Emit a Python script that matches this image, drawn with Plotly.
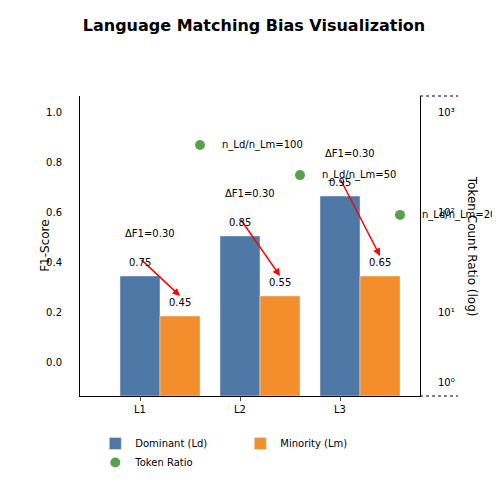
import plotly.graph_objects as go
import math

langs = ["L1", "L2", "L3"]
dominant_h = [0.344, 0.504, 0.664]
minority_h = [0.184, 0.264, 0.344]
dominant_lbl = ["0.75", "0.85", "0.95"]
minority_lbl = ["0.45", "0.55", "0.65"]
delta_lbl = ["ΔF1=0.30", "ΔF1=0.30", "ΔF1=0.30"]
ratios = [100, 50, 20]
ratio_lbl = ["n_Ld/n_Lm=100", "n_Ld/n_Lm=50", "n_Ld/n_Lm=20"]
right_tickpos = [10**-0.37, 10**0.33, 10**1.33, 10**2.33]
right_ticktext = ["10⁰", "10¹", "10²", "10³"]

BASE = -0.136
xs = [0, 1, 2]
F = dict(family="DejaVu Sans", size=10, color="black")

fig = go.Figure()
fig.add_bar(x=xs, y=[h - BASE for h in dominant_h], base=BASE, width=0.4,
            marker_color="#4e79a7", name="Dominant (Ld)", offset=-0.2)
fig.add_bar(x=[x + 0.4 for x in xs], y=[h - BASE for h in minority_h], base=BASE, width=0.4,
            marker_color="#f28e2b", name="Minority (Lm)", offset=-0.2)
fig.add_scatter(x=[x + 0.6 for x in xs], y=ratios, yaxis="y2", mode="markers",
                marker=dict(color="#59a14f", size=10), name="Token Ratio")

ann = []
for i, x in enumerate(xs):
    d, m = dominant_h[i], minority_h[i]
    ann.append(dict(x=x + 0.4, y=m + 0.08, ax=x, ay=d + 0.07, xref="x", yref="y",
                    axref="x", ayref="y", showarrow=True, arrowhead=2, arrowsize=1,
                    arrowwidth=1.5, arrowcolor="red", text=""))
    ann.append(dict(x=x, y=d + 0.056, text=dominant_lbl[i], showarrow=False, xref="x", yref="y", font=F))
    ann.append(dict(x=x + 0.4, y=m + 0.056, text=minority_lbl[i], showarrow=False, xref="x", yref="y", font=F))
    ann.append(dict(x=x + 0.1, y=d + 0.172, text=delta_lbl[i], showarrow=False, xref="x", yref="y", font=F))
    ann.append(dict(x=x + 0.8, y=math.log10(ratios[i]), text=ratio_lbl[i], showarrow=False,
                    xref="x", yref="y2", xanchor="left", font=F))
ann.append(dict(x=-0.13, y=0.5, xref="paper", yref="paper", text="F1-Score", textangle=-90,
                showarrow=False, font=dict(family="DejaVu Sans", size=12)))
ann.append(dict(x=1.18, y=0.5, xref="paper", yref="paper", text="Token Count Ratio (log)",
                textangle=90, showarrow=False, font=dict(family="DejaVu Sans", size=12)))

fig.update_layout(
    annotations=ann,
    width=492, height=488, plot_bgcolor="white", paper_bgcolor="white",
    margin=dict(l=72, r=80, t=88, b=100, autoexpand=False),
    title=dict(text="<b>Language Matching Bias Visualization</b>", x=0.5, xanchor="center",
               y=1 - 17 / 488, yanchor="middle",
               font=dict(family="DejaVu Sans", size=16, color="black")),
    font=dict(family="DejaVu Sans", size=10, color="black"),
    barmode="overlay",
    xaxis=dict(range=[-0.6, 2.8], tickvals=xs, ticktext=langs, showline=True, linecolor="black",
               showgrid=False, zeroline=False, ticks="outside", ticklen=4),
    yaxis=dict(range=[BASE, BASE + 1.2], tickvals=[0, 0.2, 0.4, 0.6, 0.8, 1.0],
               ticktext=["0.0", "0.2", "0.4", "0.6", "0.8", "1.0"], showline=True, linecolor="black",
               showgrid=False, zeroline=False, ticks="", ticklabelstandoff=15),
    yaxis2=dict(type="log", overlaying="y", side="right", range=[-0.51, 2.49],
                tickvals=right_tickpos, ticktext=right_ticktext, showline=True, linecolor="black",
                showgrid=False, zeroline=False, ticklabelstandoff=15),
    legend=dict(orientation="h", x=0.045, xanchor="left", y=-0.19, yanchor="middle",
                entrywidth=100, font=dict(size=10)),
)
fig.add_shape(type="line", xref="paper", yref="paper", x0=1, x1=1.112, y0=1, y1=1,
              line=dict(color="black", width=1, dash="dot"))
fig.add_shape(type="line", xref="paper", yref="paper", x0=1, x1=1.112, y0=0, y1=0,
              line=dict(color="black", width=1, dash="dot"))
fig.write_html("out.html")
